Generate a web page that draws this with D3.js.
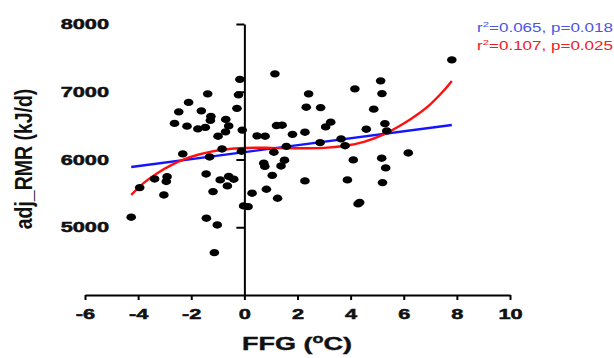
<!DOCTYPE html>
<html>
<head>
<meta charset="utf-8">
<script src="https://cdn.jsdelivr.net/npm/d3@7"></script>
<style>
  html, body { margin: 0; padding: 0; background: #fff; }
  svg { display: block; font-family: "Liberation Sans", Arial, sans-serif; }
</style>
</head>
<body>
<div id="chart"></div>
<script>
// FFG (deg C) and adjusted RMR (kJ/d), one entry per subject
const ffg = [
  -4.26, -3.94, -3.38, -2.91, -2.94, -3.03, -2.63, -2.47, -2.32, -2.10,
  -2.16, -1.75, -1.62, -1.47, -1.38, -1.26, -1.28, -1.31, -1.44, -1.18,
  -1.43, -1.02, -1.13, -0.99, -0.84, -0.91, -0.70, -0.59, -0.71, -0.59,
  -0.40, -0.64, -0.17, -0.22, -0.28, -0.08, -0.11, -0.03, 0.14, 0.29,
  0.48, 0.78, 0.73, 0.77, 0.83, 1.05, 1.11, 1.15, 1.21, 1.42,
  1.25, 1.38, 1.51, 1.58, 1.81, 2.28, 2.28, 2.42, 2.33, 2.87,
  2.85, 3.06, 3.25, 3.64, 3.79, 3.88, 4.10, 4.16, 4.34, 4.28,
  4.59, 4.87, 5.13, 5.18, 5.29, 5.36, 5.17, 5.32, 5.20, 6.17, 7.81
];
const rmr = [
  5148, 5585, 5713, 5747, 5676, 5477, 6533, 6703, 6083, 6843,
  6492, 6452, 6718, 6474, 6969, 6636, 6577, 6038, 5787, 5526,
  5133, 5034, 4625, 6344, 6156, 5699, 6592, 6496, 6408, 5750,
  5709, 5610, 7183, 6954, 6755, 6434, 6122, 5315, 5304, 5502,
  6348, 6344, 5945, 5898, 5561, 5765, 6108, 7264, 6501, 6506,
  5428, 5905, 5990, 6193, 6371, 6403, 5684, 6969, 6772, 6766,
  6249, 6481, 6551, 6304, 6204, 5699, 5994, 7043, 5366, 5345,
  6447, 6743, 7161, 6973, 6530, 6422, 6019, 5876, 5659, 6097, 7471
];

// linear fit (blue), read at its two ends
const linX = [-4.26, 7.81];
const linY = [5890, 6510];

// cubic fit (red)
const cubX = [-4.26, -3.75, -3.25, -2.75, -2.25, -1.75, -1.25, -0.75, 0, 1, 2, 3, 3.75, 4.5, 5.25, 6, 6.5, 7, 7.5, 7.81];
const cubY = [5477, 5665, 5805, 5917, 6005, 6070, 6117, 6147, 6170, 6172, 6165, 6171, 6199, 6259, 6370, 6530, 6660, 6815, 7014, 7160];

const xTicks = [-6, -4, -2, 0, 2, 4, 6, 8, 10];
const yTicks = [5000, 6000, 7000, 8000];
const statsLinear = { r2: '0.065', p: '0.018' };
const statsCubic = { r2: '0.107', p: '0.025' };

const W = 614, H = 358;
const stretch = 1.5; // the source picture is widened horizontally

const svg = d3.select('#chart').append('svg')
  .attr('width', W)
  .attr('height', H);

const x = d3.scaleLinear().domain([-6, 10]).range([85, 510]);
const y = d3.scaleLinear().domain([4000, 8000]).range([295, 24]);

// fit lines first, dots sit on top
const line = d3.line().x(d => x(d[0])).y(d => y(d[1]));

svg.append('path')
  .datum(d3.zip(linX, linY))
  .attr('d', line)
  .attr('fill', 'none')
  .attr('stroke', '#1414ff')
  .attr('stroke-width', 2.4);

svg.append('path')
  .datum(d3.zip(cubX, cubY))
  .attr('d', line.curve(d3.curveCatmullRom))
  .attr('fill', 'none')
  .attr('stroke', '#ff1010')
  .attr('stroke-width', 2.4);

// x axis
const xAxis = svg.append('g')
  .attr('transform', 'translate(0,' + y(4000) + ')')
  .call(d3.axisBottom(x).tickValues(xTicks).tickFormat(d => String(d))
    .tickSize(5).tickSizeOuter(0).tickPadding(9));

xAxis.select('.domain').attr('stroke-width', 2);
xAxis.selectAll('.tick line').attr('stroke-width', 2);
xAxis.selectAll('text')
  .attr('font-size', '14.5px')
  .attr('font-weight', 'bold')
  .attr('fill', '#111')
  .attr('stroke', '#111')
  .attr('stroke-width', 0.5)
  .attr('transform', function () {
    return 'translate(0,' + d3.select(this).attr('y') + ') scale(' + stretch + ',1)';
  })
  .attr('y', 0);

// y axis sits at FFG = 0, labels stay at the left edge
const y0 = x(0);
const yAxis = svg.append('g')
  .attr('transform', 'translate(' + y0 + ',0)')
  .call(d3.axisLeft(y).tickValues(yTicks).tickFormat(d => String(d))
    .tickSize(8).tickSizeOuter(0));

yAxis.select('.domain').attr('stroke-width', 2);
yAxis.selectAll('.tick line').attr('stroke-width', 2);
yAxis.selectAll('text')
  .attr('font-size', '14.5px')
  .attr('font-weight', 'bold')
  .attr('fill', '#111')
  .attr('stroke', '#111')
  .attr('stroke-width', 0.5)
  .attr('x', 0)
  .attr('transform', 'translate(' + (109 - y0) + ',0) scale(' + stretch + ',1)');

// points
svg.append('g')
  .selectAll('ellipse')
  .data(d3.zip(ffg, rmr))
  .enter().append('ellipse')
  .attr('cx', d => x(d[0]))
  .attr('cy', d => y(d[1]))
  .attr('rx', 4.8)
  .attr('ry', 3.7)
  .attr('fill', '#000');

// axis titles
const xTitle = svg.append('text')
  .attr('transform', 'translate(297,350) scale(' + stretch + ',1)')
  .attr('text-anchor', 'middle')
  .attr('font-size', '18px')
  .attr('font-weight', 'bold')
  .attr('fill', '#111')
  .attr('stroke', '#111')
  .attr('stroke-width', 0.4);
xTitle.append('tspan').text('FFG (');
xTitle.append('tspan').attr('font-size', '12px').attr('dy', -7).text('o');
xTitle.append('tspan').attr('dy', 7).text('C)');

svg.append('text')
  .attr('transform', 'translate(32,159) scale(1.2,1) rotate(-90)')
  .attr('text-anchor', 'middle')
  .attr('font-size', '19.5px')
  .attr('font-weight', 'bold')
  .attr('fill', '#111')
  .text('adj_RMR (kJ/d)');

// fit statistics
function stat(yPos, s, color) {
  const t = svg.append('text')
    .attr('transform', 'translate(477,' + yPos + ') scale(1.42,1)')
    .attr('font-size', '12px')
    .attr('fill', color);
  t.append('tspan').text('r');
  t.append('tspan').attr('font-size', '8px').attr('dy', -5).text('2');
  t.append('tspan').attr('dy', 5).text('=' + s.r2 + ', p=' + s.p);
}
stat(32, statsLinear, '#4b55e6');
stat(50, statsCubic, '#f02020');
</script>
</body>
</html>
